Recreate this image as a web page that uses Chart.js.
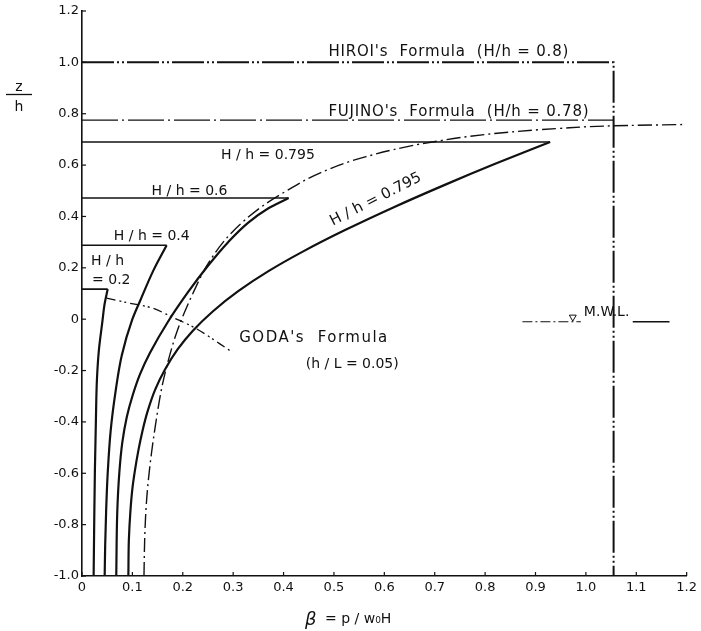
<!DOCTYPE html>
<html><head><meta charset="utf-8">
<script src="https://cdn.jsdelivr.net/npm/chart.js@4.4.1/dist/chart.umd.min.js"></script>
<style>html,body{margin:0;padding:0;background:#fff}#wrap{width:701px;height:631px}</style>
</head><body>
<div id="wrap"><canvas id="c" width="701" height="631"></canvas></div>
<script>
// ---- tick labels ----
const xTickLabels = ['0','0.1','0.2','0.3','0.4','0.5','0.6','0.7','0.8','0.9','1.0','1.1','1.2'];
const yTickLabels = ['-1.0','-0.8','-0.6','-0.4','-0.2','0','0.2','0.4','0.6','0.8','1.0','1.2'];

// ---- H/h = 0.2 ----
const hh02TopBeta = [0, 0.051];
const hh02TopZ = [0.117, 0.117];
const hh02Beta = [0.0231, 0.0243, 0.0256, 0.0276, 0.0296, 0.0335, 0.0408, 0.0444, 0.051];
const hh02Z    = [-1.0, -0.782, -0.588, -0.393, -0.237, -0.121, -0.004, 0.054, 0.117];

// ---- H/h = 0.4 ----
const hh04TopBeta = [0, 0.168];
const hh04TopZ = [0.288, 0.288];
const hh04Beta = [0.045, 0.046, 0.048, 0.051, 0.057, 0.067, 0.079, 0.1, 0.115, 0.142, 0.168];
const hh04Z    = [-1.0, -0.88, -0.74, -0.6, -0.432, -0.276, -0.14, 0.0, 0.07, 0.191, 0.288];

// ---- H/h = 0.6 ----
const hh06TopBeta = [0, 0.41];
const hh06TopZ = [0.472, 0.472];
const hh06Beta = [0.068, 0.07, 0.074, 0.08, 0.089, 0.1, 0.115, 0.135, 0.17, 0.21, 0.25, 0.29, 0.33, 0.37, 0.41];
const hh06Z    = [-1.0, -0.75, -0.6, -0.48, -0.38, -0.3, -0.215, -0.131, -0.012, 0.104, 0.208, 0.30, 0.376, 0.432, 0.472];

// ---- H/h = 0.795 ----
const hh0795TopBeta = [0, 0.929];
const hh0795TopZ = [0.69, 0.69];
const hh0795Beta = [0.092, 0.093, 0.096, 0.1, 0.105, 0.112, 0.12, 0.13, 0.145, 0.165, 0.19, 0.22, 0.26, 0.31, 0.37, 0.44, 0.52, 0.62, 0.72, 0.82, 0.929];
const hh0795Z    = [-1.0, -0.86, -0.75, -0.66, -0.59, -0.51, -0.435, -0.36, -0.275, -0.195, -0.117, -0.045, 0.031, 0.109, 0.187, 0.265, 0.345, 0.437, 0.523, 0.605, 0.69];

// ---- Fujino's formula (H/h = 0.78) ----
const fujinoLineBeta = [0, 1.055];
const fujinoLineZ = [0.775, 0.775];
const fujinoBeta = [0.123, 0.1245, 0.127, 0.131, 0.138, 0.146, 0.158, 0.17, 0.19, 0.22, 0.252, 0.296, 0.355, 0.408, 0.473, 0.562, 0.692, 0.824, 0.949, 1.055, 1.195];
const fujinoZ    = [-1.0, -0.85, -0.74, -0.64, -0.52, -0.41, -0.27, -0.17, -0.04, 0.1, 0.222, 0.335, 0.436, 0.502, 0.57, 0.632, 0.689, 0.724, 0.743, 0.753, 0.758];

// ---- Hiroi's formula (H/h = 0.8) ----
const hiroiBeta = [0, 1.055, 1.055];
const hiroiZ = [1.0, 1.0, -1.0];

// ---- Goda's formula (h/L = 0.05) ----
const godaBeta = [0.049, 0.095, 0.140, 0.179, 0.225, 0.298];
const godaZ    = [0.082, 0.062, 0.043, 0.008, -0.035, -0.128];

// ---- M.W.L. ----
const mwlDashBeta = [0.874, 0.99];
const mwlDashZ = [-0.01, -0.01];
const mwlSolidBeta = [1.093, 1.166];
const mwlSolidZ = [-0.01, -0.01];
const mwlMarkBeta = [0.974];
const mwlMarkZ = [0.008];

const toPts = (xs, ys) => xs.map((x, i) => ({x: x, y: ys[i]}));
const INK = '#111';

function line(xs, ys, opts) {
  return Object.assign({
    data: toPts(xs, ys), showLine: true, pointRadius: 0, borderColor: INK,
    borderWidth: 2.2, tension: 0, fill: false
  }, opts || {});
}
// smooth along z (the curves are steep near the bottom)
const SMOOTH_Z = {cubicInterpolationMode: 'monotone', indexAxis: 'y'};
const SMOOTH_X = {cubicInterpolationMode: 'monotone'};

const datasets = [
  line(hh02TopBeta, hh02TopZ, {borderWidth: 1.6}),
  line(hh02Beta, hh02Z, SMOOTH_Z),
  line(hh04TopBeta, hh04TopZ, {borderWidth: 1.6}),
  line(hh04Beta, hh04Z, SMOOTH_Z),
  line(hh06TopBeta, hh06TopZ, {borderWidth: 1.6}),
  line(hh06Beta, hh06Z, SMOOTH_Z),
  line(hh0795TopBeta, hh0795TopZ, {borderWidth: 1.6}),
  line(hh0795Beta, hh0795Z, SMOOTH_Z),
  line(fujinoLineBeta, fujinoLineZ, {borderWidth: 1.4, borderDash: [36, 4, 2, 4]}),
  line(fujinoBeta, fujinoZ, Object.assign({borderWidth: 1.4, borderDash: [14, 4, 2, 4]}, SMOOTH_Z)),
  line(hiroiBeta, hiroiZ, {borderWidth: 2, borderDash: [32, 3, 2, 3, 2, 3]}),
  line(godaBeta, godaZ, Object.assign({borderWidth: 1.3, borderDash: [9, 4, 2, 3, 2, 4]}, SMOOTH_X)),
  line(mwlDashBeta, mwlDashZ, {borderWidth: 1.2, borderDash: [10, 3, 2, 3]}),
  line(mwlSolidBeta, mwlSolidZ, {borderWidth: 1.3}),
  {data: toPts(mwlMarkBeta, mwlMarkZ), showLine: false, pointStyle: 'triangle', rotation: 180,
   pointRadius: 4, pointBackgroundColor: '#fff', pointBorderColor: INK, pointBorderWidth: 1}
];

const FONT = '"DejaVu Sans", sans-serif';

// in-plot labels: [text, beta, z, size, rotationDeg, align, letterSpacingPx]
const textLabels = [
  ["HIROI's  Formula  (H/h = 0.8)", 0.489, 1.023, 15, 0, 'left', 0.8],
  ["FUJINO's  Formula  (H/h = 0.78)", 0.489, 0.79, 15, 0, 'left', 0.8],
  ["H / h = 0.795", 0.276, 0.623, 14, 0, 'left', 0],
  ["H / h = 0.6", 0.138, 0.482, 14, 0, 'left', 0],
  ["H / h = 0.4", 0.063, 0.307, 14, 0, 'left', 0],
  ["H / h", 0.018, 0.21, 14, 0, 'left', 0],
  ["= 0.2", 0.02, 0.136, 14, 0, 'left', 0],
  ["GODA's  Formula", 0.312, -0.09, 15, 0, 'left', 1.5],
  ["(h / L = 0.05)", 0.444, -0.19, 14, 0, 'left', 0],
  ["H / h = 0.795", 0.582, 0.47, 15, -27, 'center', 0],
  ["M.W.L.", 0.996, 0.012, 14, 0, 'left', 0]
];

const decor = {
  id: 'decor',
  afterDraw(chart) {
    const ctx = chart.ctx, xs = chart.scales.x, ys = chart.scales.y;
    ctx.save();
    ctx.fillStyle = INK; ctx.strokeStyle = INK;
    // inward tick marks
    ctx.lineWidth = 1.2;
    xs.ticks.forEach(t => {
      const px = xs.getPixelForValue(t.value);
      ctx.beginPath(); ctx.moveTo(px, ys.bottom); ctx.lineTo(px, ys.bottom - 4); ctx.stroke();
    });
    ys.ticks.forEach(t => {
      const py = ys.getPixelForValue(t.value);
      ctx.beginPath(); ctx.moveTo(xs.left, py); ctx.lineTo(xs.left + 4, py); ctx.stroke();
    });
    // labels
    ctx.textBaseline = 'alphabetic';
    textLabels.forEach(([txt, b, z, size, rot, align, ls]) => {
      const px = xs.getPixelForValue(b), py = ys.getPixelForValue(z);
      ctx.save();
      ctx.font = size + 'px ' + FONT;
      if ('letterSpacing' in ctx) ctx.letterSpacing = ls + 'px';
      ctx.textAlign = align;
      ctx.translate(px, py);
      if (rot) ctx.rotate(rot * Math.PI / 180);
      ctx.fillText(txt, 0, rot ? 5 : 0);
      ctx.restore();
    });
    // y axis title z/h as a fraction
    ctx.font = '14px ' + FONT;
    ctx.textAlign = 'center';
    ctx.fillText('z', 19, 91);
    ctx.fillText('h', 19, 111);
    ctx.lineWidth = 1.3;
    ctx.beginPath(); ctx.moveTo(6, 94.5); ctx.lineTo(32, 94.5); ctx.stroke();
    // x axis title
    ctx.textAlign = 'left';
    ctx.font = 'italic 18px ' + FONT;
    ctx.fillText('\u03B2', 305, 625);
    ctx.font = '14px ' + FONT;
    ctx.fillText('= p / w\u2080H', 325, 623);
    ctx.restore();
  }
};

new Chart(document.getElementById('c'), {
  type: 'scatter',
  data: {datasets: datasets},
  options: {
    responsive: false,
    animation: false,
    layout: {padding: {left: 0, right: 11, top: 11, bottom: 0}},
    plugins: {legend: {display: false}, tooltip: {enabled: false}},
    scales: {
      x: {
        type: 'linear', min: 0, max: 1.2,
        afterFit: s => { s.height = 55; },
        ticks: {stepSize: 0.1, color: INK, font: {family: FONT, size: 13}, padding: 4, maxRotation: 0,
          callback: (v) => xTickLabels[Math.round(v * 10)]},
        grid: {drawOnChartArea: false, drawTicks: false},
        border: {color: INK, width: 1.6}
      },
      y: {
        type: 'linear', min: -1.0, max: 1.2,
        afterFit: s => { s.width = 82; },
        ticks: {stepSize: 0.2, color: INK, font: {family: FONT, size: 13}, padding: 3,
          callback: (v) => yTickLabels[Math.round((v + 1) * 5)]},
        grid: {drawOnChartArea: false, drawTicks: false},
        border: {color: INK, width: 1.6}
      }
    }
  },
  plugins: [decor]
});
</script>
</body></html>
